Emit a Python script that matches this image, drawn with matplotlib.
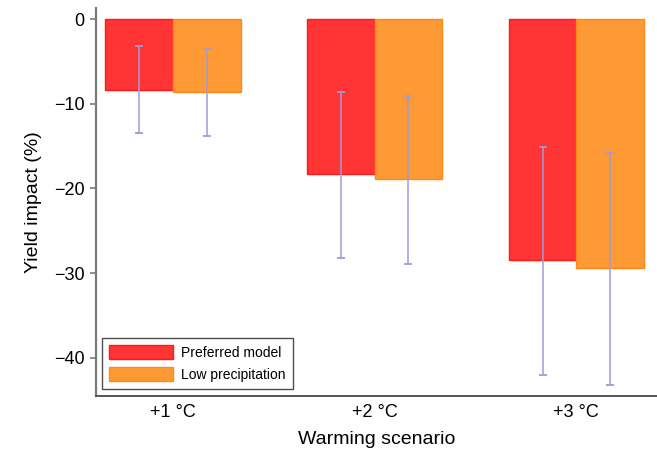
import numpy as np
import matplotlib.pyplot as plt

plt.rcParams['font.family'] = ['Liberation Sans', 'DejaVu Sans']

# Data
scenarios = ['+1 °C', '+2 °C', '+3 °C']
preferred = [-8.4, -18.3, -28.5]
preferred_hi = [-3.2, -8.6, -15.1]
preferred_lo = [-13.5, -28.2, -42.0]
low_precip = [-8.65, -18.9, -29.4]
low_precip_hi = [-3.5, -9.1, -15.8]
low_precip_lo = [-13.85, -28.9, -43.2]

red = '#ff3434'
orange = '#fe9a35'
err_col = '#a09ad8'

fig = plt.figure(figsize=(6.57, 4.53), dpi=100)
ax = fig.add_axes([0.146, 0.126, 0.854, 0.856])

x = np.arange(len(scenarios))
w = 0.335

def yerr(vals, hi, lo):
    vals, hi, lo = map(np.array, (vals, hi, lo))
    return np.vstack([vals - lo, hi - vals])

ax.bar(x - w / 2, preferred, w, color=red, edgecolor='#ff1a1a', lw=1,
       label='Preferred model')
ax.bar(x + w / 2, low_precip, w, color=orange, edgecolor='#ff8a1a', lw=1,
       label='Low precipitation')
ax.errorbar(x - w / 2, preferred, yerr=yerr(preferred, preferred_hi, preferred_lo),
            fmt='none', ecolor=err_col, elinewidth=1.1, capsize=3, capthick=1.3)
ax.errorbar(x + w / 2, low_precip, yerr=yerr(low_precip, low_precip_hi, low_precip_lo),
            fmt='none', ecolor=err_col, elinewidth=1.1, capsize=3, capthick=1.3)

ax.set_xlim(-0.382, 2.40)
ax.set_ylim(-44.5, 1.3)
ax.set_yticks([0, -10, -20, -30, -40])
ax.set_yticklabels(['0', '\u221210', '\u221220', '\u221230', '\u221240'])
ax.set_xticks(x)
ax.set_xticklabels(scenarios)

for s in ['top', 'right']:
    ax.spines[s].set_visible(False)
ax.spines['left'].set_color('#7a7a7a')
ax.spines['left'].set_linewidth(1.6)
ax.spines['bottom'].set_color('#555555')
ax.spines['bottom'].set_linewidth(1.4)
ax.tick_params(axis='y', length=4, width=1.2, color='#7a7a7a', labelsize=13, pad=4)
ax.tick_params(axis='x', length=0, labelsize=13, pad=6)

ax.set_ylabel('Yield impact (%)', fontsize=14, labelpad=9)
ax.set_xlabel('Warming scenario', fontsize=14, labelpad=7)

leg = ax.legend(loc='lower left', bbox_to_anchor=(0.011, 0.018), borderaxespad=0,
                fontsize=10, frameon=True, fancybox=False, edgecolor='#222222',
                handlelength=4.6, handleheight=1.2, handletextpad=0.6,
                borderpad=0.5, labelspacing=0.55)
leg.get_frame().set_linewidth(1.0)

fig.savefig('out.png', dpi=100)
